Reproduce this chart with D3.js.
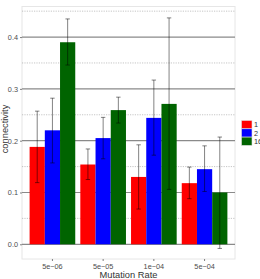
<!DOCTYPE html>
<html>
<head>
<meta charset="utf-8">
<script src="https://cdn.jsdelivr.net/npm/d3@7"></script>
<style>
  body { margin: 0; background: #fff; }
  svg { display: block; font-family: "Liberation Sans", Arial, sans-serif; }
</style>
</head>
<body>
<svg id="chart" width="260" height="279"></svg>
<script>
// data
const rates = ["5e-06", "5e-05", "1e-04", "5e-04"];
const groups = ["1", "2", "16"];
const colors = ["#ff0000", "#0000ff", "#006400"];
const means = [
  [0.188, 0.154, 0.130, 0.118],
  [0.220, 0.205, 0.244, 0.145],
  [0.390, 0.259, 0.271, 0.100]
];
const lower = [
  [0.119, 0.125, 0.068, 0.088],
  [0.157, 0.165, 0.172, 0.102],
  [0.346, 0.234, 0.106, -0.008]
];
const upper = [
  [0.257, 0.184, 0.192, 0.149],
  [0.282, 0.245, 0.317, 0.190],
  [0.435, 0.284, 0.437, 0.207]
];
const yTicks = [0, 0.1, 0.2, 0.3, 0.4];
const yMinor = [0.05, 0.15, 0.25, 0.35, 0.45];

const panel = { left: 22, top: 6.5, right: 235, bottom: 259 };
const svg = d3.select("#chart");

const yScale = d3.scaleLinear()
  .domain([-0.0284, 0.459])
  .range([panel.bottom, panel.top]);

// discrete axis with ggplot-style 0.6 expansion
const xScale = d3.scaleBand()
  .domain(rates)
  .range([panel.left, panel.right])
  .paddingInner(0)
  .paddingOuter(0.1);
const unit = xScale.bandwidth();
const barW = unit * 0.9 / groups.length;

// panel background
svg.append("rect")
  .attr("x", panel.left).attr("y", panel.top)
  .attr("width", panel.right - panel.left)
  .attr("height", panel.bottom - panel.top)
  .attr("fill", "#fff")
  .attr("stroke", "#e6e6e6")
  .attr("stroke-width", 1);

// grid lines
svg.selectAll(".minor")
  .data(yMinor)
  .enter().append("line")
  .attr("x1", panel.left).attr("x2", panel.right)
  .attr("y1", d => yScale(d)).attr("y2", d => yScale(d))
  .attr("stroke", "#a0a0a0")
  .attr("stroke-width", 0.6)
  .attr("stroke-dasharray", "1.2,1.2");

svg.selectAll(".major")
  .data(yTicks)
  .enter().append("line")
  .attr("x1", panel.left).attr("x2", panel.right)
  .attr("y1", d => yScale(d)).attr("y2", d => yScale(d))
  .attr("stroke", "#8a8a8a")
  .attr("stroke-width", 1.2);

// bars
const series = groups.map((g, i) => means[i].map((v, j) => ({
  g: i, rate: rates[j], v: v, lo: lower[i][j], hi: upper[i][j]
})));
const flat = series.flat();

const barX = d => xScale(d.rate) + unit / 2 - unit * 0.45 + d.g * barW;

svg.selectAll(".bar")
  .data(flat)
  .enter().append("rect")
  .attr("class", "bar")
  .attr("x", barX)
  .attr("width", barW)
  .attr("y", d => yScale(d.v))
  .attr("height", d => yScale(0) - yScale(d.v))
  .attr("fill", d => colors[d.g]);

// error bars
const err = svg.append("g")
  .attr("stroke", "#000")
  .attr("stroke-opacity", 0.55)
  .attr("stroke-width", 0.9);
flat.forEach(d => {
  const cx = barX(d) + barW / 2;
  err.append("line").attr("x1", cx).attr("x2", cx)
    .attr("y1", yScale(d.lo)).attr("y2", yScale(d.hi));
  err.append("line").attr("x1", cx - 2.2).attr("x2", cx + 2.2)
    .attr("y1", yScale(d.lo)).attr("y2", yScale(d.lo));
  err.append("line").attr("x1", cx - 2.2).attr("x2", cx + 2.2)
    .attr("y1", yScale(d.hi)).attr("y2", yScale(d.hi));
});

// y axis
const yAxis = d3.axisLeft(yScale)
  .tickValues(yTicks)
  .tickFormat(d3.format(".1f"))
  .tickSize(2)
  .tickPadding(2);
const yAxisGroup = svg.append("g")
  .attr("transform", `translate(${panel.left},0)`)
  .call(yAxis);
yAxisGroup.select(".domain").remove();
yAxisGroup.selectAll(".tick line").attr("stroke", "#7f7f7f");
yAxisGroup.selectAll(".tick text")
  .attr("font-size", 7.3)
  .attr("fill", "#4d4d4d");

// x axis
const xAxis = d3.axisBottom(xScale)
  .tickSize(2)
  .tickPadding(3);
const xAxisGroup = svg.append("g")
  .attr("transform", `translate(0,${panel.bottom})`)
  .call(xAxis);
xAxisGroup.select(".domain").remove();
xAxisGroup.selectAll(".tick line").attr("stroke", "#7f7f7f");
xAxisGroup.selectAll(".tick text")
  .attr("font-size", 7.3)
  .attr("fill", "#4d4d4d")
  .text(d => d.replace("-", "\u2212"));

// axis titles
svg.append("text")
  .attr("x", (panel.left + panel.right) / 2)
  .attr("y", 278)
  .attr("text-anchor", "middle")
  .attr("font-size", 9.3)
  .attr("fill", "#333")
  .text("Mutation Rate");

svg.append("text")
  .attr("transform", "translate(7.5,129) rotate(-90)")
  .attr("text-anchor", "middle")
  .attr("font-size", 9.3)
  .attr("fill", "#333")
  .text("connectivity");

// legend
const legend = svg.append("g")
  .attr("transform", "translate(241.5,120.5)");
groups.forEach((g, i) => {
  legend.append("rect")
    .attr("x", 0).attr("y", i * 8.3)
    .attr("width", 10.5).attr("height", 8.3)
    .attr("fill", colors[i])
    .attr("stroke", "#e0e0e0")
    .attr("stroke-width", 0.6);
  legend.append("text")
    .attr("x", 12.5).attr("y", i * 8.3 + 4.3)
    .attr("dy", "0.35em")
    .attr("font-size", 7.3)
    .attr("fill", "#333")
    .text(g);
});
</script>
</body>
</html>
